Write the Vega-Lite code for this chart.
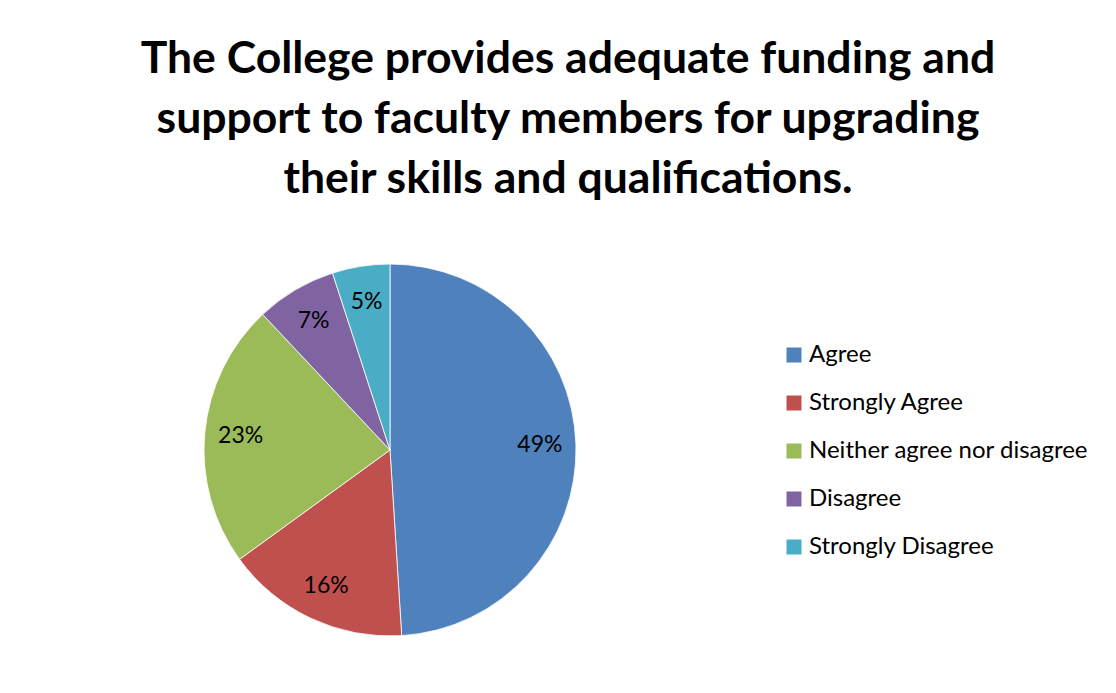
{
  "$schema": "https://vega.github.io/schema/vega-lite/v6.json",
  "width": 780,
  "height": 400,
  "autosize": "none",
  "padding": {"left": 0, "top": 250, "right": 336, "bottom": 43},
  "background": "white",
  "config": {"view": {"stroke": null}, "font": "Lato"},
  "title": {
    "text": ["The College provides adequate funding and", "support to faculty members for upgrading", "their skills and qualifications."],
    "frame": "group",
    "anchor": "middle",
    "dx": 178,
    "offset": 48,
    "fontSize": 44.5,
    "fontWeight": "bold",
    "lineHeight": 60,
    "font": "Lato",
    "color": "black"
  },
  "data": {
    "values": [
      {"response": "Agree", "percent": 49, "rank": 1, "label": "49%"},
      {"response": "Strongly Agree", "percent": 16, "rank": 2, "label": "16%"},
      {"response": "Neither agree nor disagree", "percent": 23, "rank": 3, "label": "23%"},
      {"response": "Disagree", "percent": 7, "rank": 4, "label": "7%"},
      {"response": "Strongly Disagree", "percent": 5, "rank": 5, "label": "5%"}
    ]
  },
  "encoding": {
    "theta": {"field": "percent", "type": "quantitative", "stack": true},
    "order": {"field": "rank", "type": "quantitative"}
  },
  "layer": [
    {
      "mark": {"type": "arc", "outerRadius": 186, "stroke": "white", "strokeWidth": 0.8},
      "encoding": {
        "color": {
          "field": "response",
          "type": "nominal",
          "scale": {
            "domain": ["Agree", "Strongly Agree", "Neither agree nor disagree", "Disagree", "Strongly Disagree"],
            "range": ["#4F81BD", "#C0504D", "#9BBB59", "#8064A2", "#4BACC6"]
          },
          "legend": {
            "title": null,
            "orient": "none",
            "legendX": 782,
            "legendY": 93,
            "symbolType": "square",
            "symbolSize": 225,
            "symbolStrokeWidth": 0,
            "symbolOpacity": 1,
            "labelFontSize": 24,
            "labelFont": "Lato",
            "labelColor": "black",
            "labelOffset": 3,
            "rowPadding": 24,
            "labelLimit": 400
          }
        }
      }
    },
    {
      "mark": {"type": "text", "radius": 150, "fontSize": 23, "font": "Lato", "color": "black"},
      "encoding": {"text": {"field": "label", "type": "nominal"}}
    }
  ]
}
